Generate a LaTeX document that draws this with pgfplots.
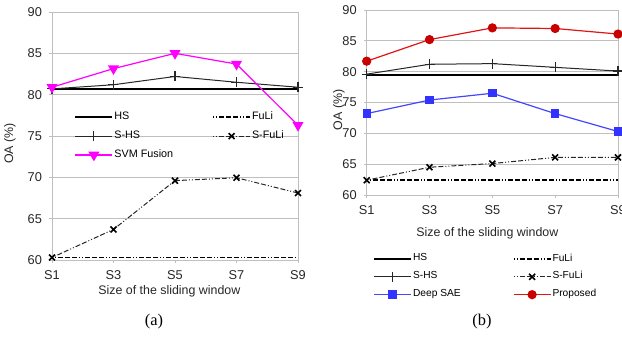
\documentclass[border=0pt]{standalone}
\usepackage{pgfplots}
\pgfplotsset{compat=1.18}
\usepackage{fontspec}
\setmainfont{Liberation Sans}
\newfontfamily\seriffont{Liberation Serif}

\definecolor{gridgray}{gray}{0.75}
\definecolor{svm}{RGB}{255,0,255}
\definecolor{sae}{RGB}{70,70,255}
\definecolor{saem}{RGB}{51,51,255}
\definecolor{prop}{RGB}{225,20,20}
\definecolor{propm}{RGB}{200,0,0}

\pgfplotsset{
  mybase/.style={
    scale only axis, clip=false,
    xmin=0, xmax=4, ymin=60, ymax=90, ytick={60,65,...,90},
    xtick={0,1,2,3,4}, xticklabels={S1,S3,S5,S7,S9},
    ymajorgrids, grid style={gridgray, line width=0.4pt},
    axis line style={gridgray, line width=0.4pt},
    tick style={gridgray, line width=0.4pt},
    tick align=outside, major tick length=1.5pt,
    xtick pos=bottom, ytick pos=left,
    tick label style={font=\fontsize{6.4}{7}\selectfont, text=black!85},
    /pgf/number format/assume math mode=true,
    legend cell align=left,
    legend image code/.code={\draw[mark repeat=2,mark phase=2,##1] plot coordinates {(0pt,0pt) (9.25pt,0pt) (18.5pt,0pt)};},
  },
  hs/.style={black, line width=1pt, no markers},
  fuli/.style={black, line width=0.9pt, no markers, dash pattern=on 0.5pt off 1pt on 0.5pt off 1pt on 2.5pt off 1pt on 2.5pt off 1pt on 2.5pt off 1pt},
  shs/.style={black!85, line width=0.5pt, mark=+, mark size=2.5pt, mark options={solid, line width=0.6pt}},
  sfuli/.style={black!85, line width=0.5pt, dash pattern=on 0.5pt off 1pt on 0.5pt off 1pt on 2.5pt off 1pt on 2.5pt off 1pt, mark=x, mark size=2.1pt, mark options={solid, black, line width=0.8pt}},
  svmst/.style={svm, line width=0.6pt, mark=triangle*, mark size=2.6pt, mark options={solid, svm, rotate=180}},
  saest/.style={sae, line width=0.6pt, mark=square*, mark size=1.8pt, mark options={solid, saem}},
  propst/.style={prop, line width=0.6pt, mark=*, mark size=2pt, mark options={solid, propm}},
}

\begin{document}
\begin{tikzpicture}
\path[use as bounding box] (0pt,0pt) rectangle (311pt,168.5pt);

% ---------------- (a) ----------------
\begin{axis}[mybase,
  at={(26pt,38.5pt)}, anchor=south west,
  width=123pt, height=124pt,
  xlabel={Size of the sliding window}, ylabel={OA (\%)},
  every axis x label/.style={at={(rel axis cs:0.477,0)}, yshift=-15.5pt, anchor=center, font=\fontsize{6.2}{7}\selectfont, text=black!85},
  every axis y label/.style={at={(rel axis cs:0,0.47)}, xshift=-21pt, rotate=90, anchor=center, font=\fontsize{6.2}{7}\selectfont, text=black!85},
  legend style={at={(0.065,0.619)}, anchor=north west, draw=none, fill=none,
    font=\fontsize{5.4}{6}\selectfont, legend columns=2, row sep=3pt,
    nodes={inner sep=0.5pt},
    /tikz/every even column/.append style={column sep=19pt}},
]
\addplot[hs] coordinates {(0,80.7) (1,80.7) (2,80.7) (3,80.7) (4,80.7)};
\addlegendentry{HS}
\addplot[fuli] coordinates {(0,60.3) (1,60.3) (2,60.3) (3,60.3) (4,60.3)};
\addlegendentry{FuLi}
\addplot[shs] coordinates {(0,80.7) (1,81.2) (2,82.2) (3,81.5) (4,80.9)};
\addlegendentry{S-HS}
\addplot[sfuli] coordinates {(0,60.3) (1,63.7) (2,69.6) (3,69.95) (4,68.1)};
\addlegendentry{S-FuLi}
\addplot[svmst] coordinates {(0,80.9) (1,83.15) (2,85.0) (3,83.7) (4,76.3)};
\addlegendentry{SVM Fusion}
\end{axis}

% ---------------- (b) ----------------
\begin{axis}[mybase,
  at={(183.35pt,71pt)}, anchor=south west,
  width=125.65pt, height=92.5pt,
  xlabel={Size of the sliding window}, ylabel={OA (\%)},
  every axis x label/.style={at={(rel axis cs:0.48,0)}, yshift=-18.9pt, anchor=center, font=\fontsize{6.2}{7}\selectfont, text=black!85},
  every axis y label/.style={at={(rel axis cs:0,0.46)}, xshift=-13.9pt, rotate=90, anchor=center, font=\fontsize{6.2}{7}\selectfont, text=black!85},
  legend style={at={(0.0,-0.288)}, anchor=north west, draw=none, fill=none,
    font=\fontsize{5.1}{6}\selectfont, legend columns=2, row sep=2.75pt,
    nodes={inner sep=0.5pt},
    /tikz/every even column/.append style={column sep=25.5pt}},
]
\addplot[hs] coordinates {(0,79.4) (1,79.4) (2,79.4) (3,79.4) (4,79.4)};
\addlegendentry{HS}
\addplot[fuli] coordinates {(0,62.4) (1,62.4) (2,62.4) (3,62.4) (4,62.4)};
\addlegendentry{FuLi}
\addplot[shs] coordinates {(0,79.6) (1,81.2) (2,81.3) (3,80.7) (4,80.1)};
\addlegendentry{S-HS}
\addplot[sfuli] coordinates {(0,62.4) (1,64.5) (2,65.1) (3,66.1) (4,66.1)};
\addlegendentry{S-FuLi}
\addplot[saest] coordinates {(0,73.2) (1,75.4) (2,76.5) (3,73.2) (4,70.3)};
\addlegendentry{Deep SAE}
\addplot[propst] coordinates {(0,81.7) (1,85.2) (2,87.1) (3,87.0) (4,86.1)};
\addlegendentry{Proposed}
\end{axis}

\node[font=\seriffont\fontsize{8.2}{9}\selectfont] at (77pt,7.5pt) {(a)};
\node[font=\seriffont\fontsize{8.2}{9}\selectfont] at (241pt,7.5pt) {(b)};
\end{tikzpicture}
\end{document}
